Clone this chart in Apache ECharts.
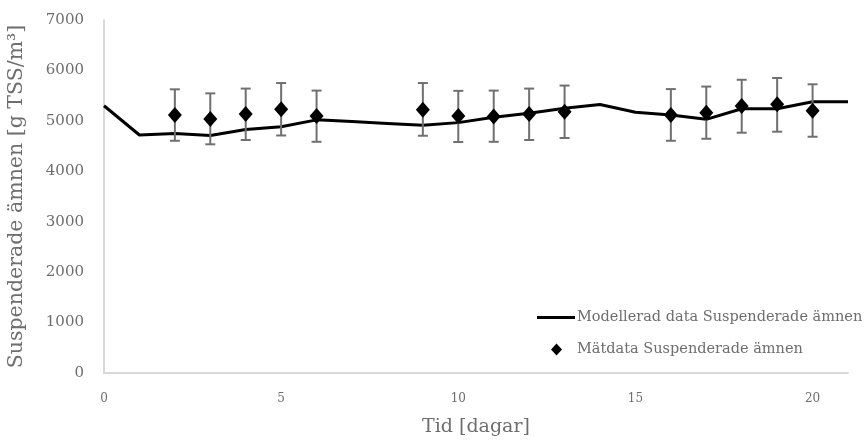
<!DOCTYPE html>
<html>
<head>
<meta charset="utf-8">
<script src="https://cdn.jsdelivr.net/npm/echarts@6/dist/echarts.min.js"></script>
<style>
  html, body { margin: 0; padding: 0; background: #fff; }
  #chart { width: 865px; height: 444px; }
</style>
</head>
<body>
<div id="chart"></div>
<script>
// modelled values, one per day 0..21
const modelDays = [0, 1, 2, 3, 4, 5, 6, 7, 8, 9, 10, 11, 12, 13, 14, 15, 16, 17, 18, 19, 20, 21];
const modelValues = [5300, 4720, 4750, 4710, 4830, 4885, 5020, 4985, 4950, 4915, 4965, 5070, 5150, 5250, 5325, 5170, 5115, 5030, 5240, 5240, 5380, 5380];

// measured values with error bar ends
const measDays = [2, 3, 4, 5, 6, 9, 10, 11, 12, 13, 16, 17, 18, 19, 20];
const measValues = [5115, 5035, 5135, 5230, 5095, 5220, 5095, 5085, 5135, 5180, 5115, 5160, 5295, 5330, 5200];
const measLow = [4605, 4535, 4620, 4710, 4585, 4705, 4580, 4585, 4620, 4660, 4605, 4645, 4765, 4785, 4685];
const measHigh = [5625, 5545, 5640, 5750, 5600, 5750, 5595, 5600, 5640, 5700, 5630, 5680, 5815, 5850, 5725];

const yTicks = [0, 1000, 2000, 3000, 4000, 5000, 6000, 7000];
const xTicks = [0, 5, 10, 15, 20];

const LINE_NAME = 'Modellerad data Suspenderade ämnen';
const MEAS_NAME = 'Mätdata Suspenderade ämnen';

const FONT = 'DejaVu Serif';
const GREY = '#6e6e6e';

const chart = echarts.init(document.getElementById('chart'), null, { renderer: 'canvas' });

const errData = measDays.map((d, i) => [d, measLow[i], measHigh[i]]);

const legendText = { fontFamily: FONT, fontSize: 14.5, color: GREY };

const option = {
    backgroundColor: '#fff',
    animation: false,
    grid: { left: 104, right: 17, top: 20, bottom: 71, containLabel: false, outerBoundsMode: 'none' },
    xAxis: {
        type: 'value',
        min: 0,
        max: 21,
        interval: 5,
        name: 'Tid [dagar]',
        nameLocation: 'middle',
        nameGap: 45,
        nameTextStyle: { fontFamily: FONT, fontSize: 19, color: GREY },
        axisLine: { lineStyle: { color: '#d9d9d9', width: 2 } },
        axisTick: { show: false },
        splitLine: { show: false },
        axisLabel: {
            margin: 20,
            fontFamily: FONT, fontSize: 12, color: GREY,
            formatter: v => (xTicks.includes(v) ? String(v) : '')
        }
    },
    yAxis: {
        type: 'value',
        min: 0,
        max: 7000,
        interval: 1000,
        name: 'Suspenderade ämnen [g TSS/m³]',
        nameLocation: 'middle',
        nameGap: 77,
        nameRotate: 90,
        nameTextStyle: { fontFamily: FONT, fontSize: 20.5, color: GREY },
        axisLine: { show: true, lineStyle: { color: '#d9d9d9', width: 2 } },
        axisTick: { show: false },
        splitLine: { show: false },
        axisLabel: {
            margin: 20,
            fontFamily: FONT, fontSize: 15, color: GREY,
            formatter: v => (yTicks.includes(v) ? String(v) : '')
        }
    },
    legend: [
        {
            left: 532,
            top: 305,
            itemWidth: 38,
            itemHeight: 12,
            textStyle: Object.assign({ padding: [0, 0, 0, -3] }, legendText),
            data: [{ name: LINE_NAME, icon: 'path://M0,0 L1,0 L1,0.08 L0,0.08 Z' }]
        },
        {
            left: 546,
            top: 337,
            itemWidth: 11,
            itemHeight: 12,
            itemGap: 0,
            textStyle: Object.assign({ padding: [0, 0, 0, 10] }, legendText),
            data: [{ name: MEAS_NAME, icon: 'diamond' }]
        }
    ],
    series: [
        {
            name: LINE_NAME,
            type: 'line',
            symbol: 'none',
            lineStyle: { color: '#000', width: 3 },
            itemStyle: { color: '#000' },
            data: modelDays.map((d, i) => [d, modelValues[i]]),
            z: 2
        },
        {
            name: 'errorbars',
            type: 'custom',
            data: errData,
            z: 3,
            renderItem: function (params, api) {
                const x = api.value(0);
                const lo = api.coord([x, api.value(1)]);
                const hi = api.coord([x, api.value(2)]);
                const w = 5;
                const style = { stroke: '#707070', lineWidth: 2 };
                return {
                    type: 'group',
                    children: [
                        { type: 'line', shape: { x1: lo[0], y1: lo[1], x2: hi[0], y2: hi[1] }, style },
                        { type: 'line', shape: { x1: lo[0] - w, y1: lo[1], x2: lo[0] + w, y2: lo[1] }, style },
                        { type: 'line', shape: { x1: hi[0] - w, y1: hi[1], x2: hi[0] + w, y2: hi[1] }, style }
                    ]
                };
            }
        },
        {
            name: MEAS_NAME,
            type: 'scatter',
            symbol: 'diamond',
            symbolSize: [14, 16],
            itemStyle: { color: '#000', opacity: 1 },
            data: measDays.map((d, i) => [d, measValues[i]]),
            z: 4
        }
    ]
};

chart.setOption(option);
</script>
</body>
</html>
